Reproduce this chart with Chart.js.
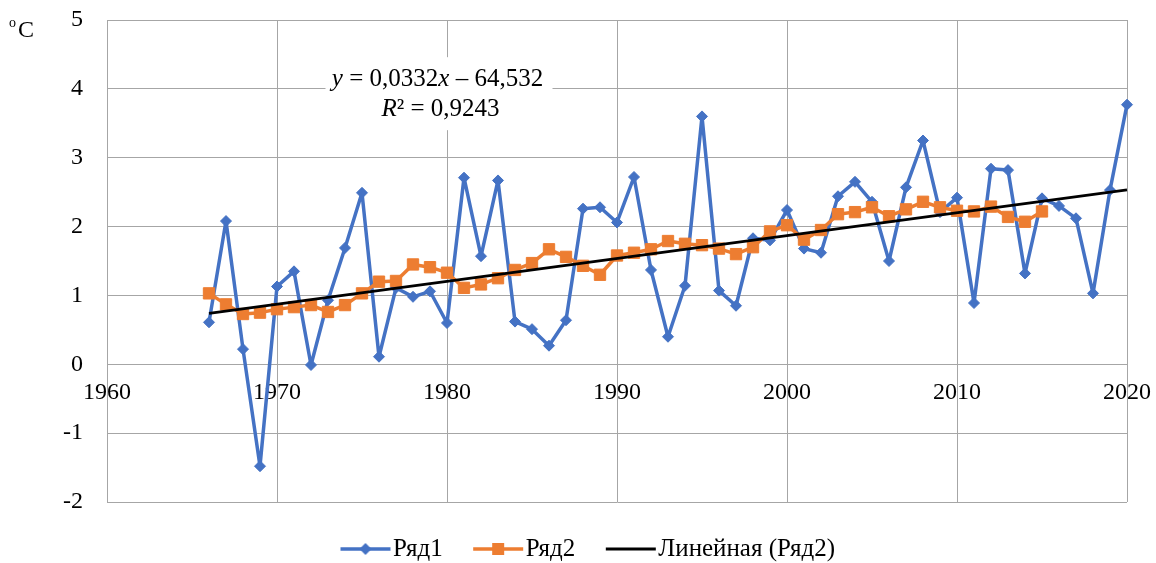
<!DOCTYPE html>
<html>
<head>
<meta charset="utf-8">
<script src="https://cdn.jsdelivr.net/npm/chart.js@4.4.1/dist/chart.umd.min.js"></script>
<style>
html,body{margin:0;padding:0;background:#fff;}
#wrap{width:1156px;height:563px;}
</style>
</head>
<body>
<div id="wrap"><canvas id="tempChart" width="1156" height="563"></canvas></div>
<script>
const years = [1966,1967,1968,1969,1970,1971,1972,1973,1974,1975,
  1976,1977,1978,1979,1980,1981,1982,1983,1984,1985,
  1986,1987,1988,1989,1990,1991,1992,1993,1994,1995,
  1996,1997,1998,1999,2000,2001,2002,2003,2004,2005,
  2006,2007,2008,2009,2010,2011,2012,2013,2014,2015,
  2016,2017,2018,2019,2020];

const row1 = [0.61,2.08,0.22,-1.48,1.13,1.35,-0.01,0.93,1.69,2.49,
  0.11,1.11,0.98,1.06,0.60,2.71,1.57,2.67,0.62,0.51,
  0.27,0.64,2.26,2.28,2.06,2.72,1.37,0.40,1.14,3.60,
  1.07,0.85,1.83,1.80,2.24,1.68,1.62,2.44,2.65,2.36,
  1.50,2.57,3.25,2.21,2.42,0.89,2.84,2.82,1.32,2.41,
  2.30,2.12,1.03,2.53,3.77];

// Ряд2 ends in 2015
const row2 = [1.03,0.87,0.73,0.75,0.80,0.83,0.86,0.76,0.86,1.03,
  1.20,1.21,1.45,1.41,1.33,1.11,1.16,1.25,1.37,1.47,
  1.67,1.56,1.43,1.30,1.58,1.62,1.67,1.79,1.75,1.73,
  1.68,1.60,1.70,1.93,2.02,1.81,1.95,2.18,2.21,2.28,
  2.15,2.25,2.36,2.28,2.23,2.22,2.29,2.14,2.07,2.22];

// trend line of Ряд2: y = 0,0332x - 64,532
const trendSlope = 0.0332;
const trendIntercept = -64.532;
const trendYears = [1966, 2020];

const seriesNames = ['Ряд1', 'Ряд2', 'Линейная (Ряд2)'];
const yTicks = [-2,-1,0,1,2,3,4,5];
const xTicks = [1960,1970,1980,1990,2000,2010,2020];

const blue = '#4472C4';
const orange = '#ED7D31';
const gridColor = '#a6a6a6';
const serif = "'Liberation Serif', 'Times New Roman', serif";

// legend sample: line with marker, drawn a bit right of the image centre
function legendSample(color, lineW, marker){
  const c = document.createElement('canvas');
  c.width = 64; c.height = 16;
  const g = c.getContext('2d');
  g.strokeStyle = color; g.lineWidth = lineW;
  g.beginPath(); g.moveTo(10,8); g.lineTo(60,8); g.stroke();
  g.fillStyle = color;
  if (marker === 'diamond'){
    g.beginPath(); g.moveTo(35,2); g.lineTo(41,8); g.lineTo(35,14); g.lineTo(29,8); g.closePath(); g.fill();
  }
  if (marker === 'square'){
    g.fillRect(29,2,12,12);
  }
  return c;
}
const samples = [legendSample(blue,3.5,'diamond'), legendSample(orange,3.5,'square'), legendSample('#000',3,null)];

function drawRuns(ctx, runs, cx, y){
  let total = 0;
  runs.forEach(r => { ctx.font = r[1]; total += ctx.measureText(r[0]).width; });
  let x = cx - total / 2;
  runs.forEach(r => { ctx.font = r[1]; ctx.fillText(r[0], x, y); x += ctx.measureText(r[0]).width; });
}

const labelsPlugin = {
  id: 'extraText',
  afterDraw(chart){
    const ctx = chart.ctx;
    const xs = chart.scales.x, ys = chart.scales.y;
    ctx.save();
    // equation box
    const cx = xs.getPixelForValue(1979.5);
    const top = ys.getPixelForValue(4.46);
    const bot = ys.getPixelForValue(3.4);
    ctx.fillStyle = '#fff';
    ctx.fillRect(cx - 113, top, 227, bot - top);
    ctx.fillStyle = '#000';
    ctx.textBaseline = 'alphabetic';
    const it = 'italic 25px ' + serif, rg = '25px ' + serif;
    drawRuns(ctx, [['y', it], [' = 0,0332', rg], ['x', it], [' \u2013 64,532', rg]], cx - 1, top + 29);
    drawRuns(ctx, [['R', it], ['\u00b2 = 0,9243', rg]], cx + 2, top + 59);
    // unit label
    ctx.textAlign = 'left';
    ctx.font = '14px ' + serif;
    ctx.fillText('o', 9, 27);
    ctx.font = '24px ' + serif;
    ctx.fillText('C', 18, 37);
    ctx.restore();
  }
};

const toPoints = (vals) => vals.map((v, i) => ({x: years[i], y: v}));

new Chart(document.getElementById('tempChart'), {
  type: 'line',
  data: {
    datasets: [
      {
        label: seriesNames[0],
        data: toPoints(row1),
        borderColor: blue, backgroundColor: blue,
        borderWidth: 3.5, borderJoinStyle: 'round', borderCapStyle: 'round',
        pointStyle: 'rectRot', pointRadius: 5.5, pointBorderWidth: 1,
        pointBackgroundColor: blue, pointBorderColor: blue,
        order: 3, clip: false
      },
      {
        label: seriesNames[1],
        data: toPoints(row2),
        borderColor: orange, backgroundColor: orange,
        borderWidth: 3.5, borderJoinStyle: 'round', borderCapStyle: 'round',
        pointStyle: 'rect', pointRadius: 8, pointBorderWidth: 1,
        pointBackgroundColor: orange, pointBorderColor: orange,
        order: 2, clip: false
      },
      {
        label: seriesNames[2],
        data: trendYears.map(yr => ({x: yr, y: trendSlope * yr + trendIntercept})),
        borderColor: '#000', borderWidth: 2.8,
        pointRadius: 0,
        order: 1, clip: false
      }
    ]
  },
  options: {
    responsive: false,
    animation: false,
    layout: { padding: { left: 52.5, right: 29, top: 20, bottom: -8.5 } },
    scales: {
      x: {
        type: 'linear',
        position: { y: 0 },
        min: 1960, max: 2020,
        afterBuildTicks: s => { s.ticks = xTicks.map(v => ({value: v})); },
        afterFit: s => { s.paddingLeft = 0; s.paddingRight = 0; },
        ticks: {
          callback: v => String(v),
          maxRotation: 0, autoSkip: false,
          padding: 14,
          color: '#000',
          font: { family: serif, size: 24 }
        },
        grid: { color: gridColor, lineWidth: 1, drawTicks: false },
        border: { color: gridColor, width: 1 }
      },
      y: {
        min: -2, max: 5,
        afterBuildTicks: s => { s.ticks = yTicks.map(v => ({value: v})); },
        afterFit: s => { s.width = 54.5; s.paddingTop = 0; s.paddingBottom = 0; },
        ticks: {
          callback: v => String(v),
          padding: 24,
          color: '#000',
          font: { family: serif, size: 24 }
        },
        grid: { color: gridColor, lineWidth: 1, drawTicks: false },
        border: { color: gridColor, width: 1 }
      }
    },
    plugins: {
      tooltip: { enabled: false },
      legend: {
        position: 'bottom',
        labels: {
          usePointStyle: true,
          pointStyleWidth: 36,
          padding: 34.5,
          color: '#000',
          font: { family: serif, size: 25 },
          generateLabels: chart => chart.data.datasets.map((ds, i) => ({
            text: ds.label,
            pointStyle: samples[i],
            fillStyle: 'transparent', strokeStyle: 'transparent', lineWidth: 0,
            hidden: false, datasetIndex: i, fontColor: '#000'
          }))
        }
      }
    }
  },
  plugins: [labelsPlugin]
});
</script>
</body>
</html>
